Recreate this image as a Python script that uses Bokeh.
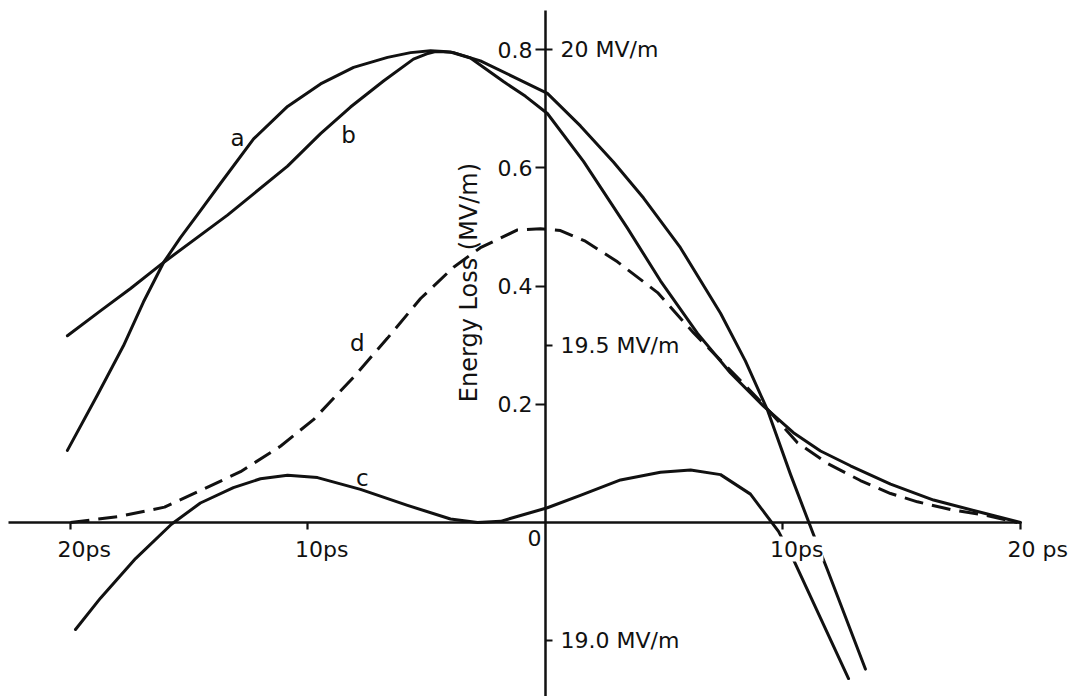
from bokeh.plotting import figure
from bokeh.models import Range1d, LinearAxis, FixedTicker, Label
from bokeh.core.properties import value
from bokeh.embed import file_html
from bokeh.resources import INLINE

# ---------------- data (time in ps, energy loss in MV/m) ----------------
a_t = [-20.13, -18.86, -17.77, -16.93, -16.08, -15.37, -14.65, -13.68, -12.29, -10.86,
       -9.47, -8.08, -6.65, -5.68, -4.84, -4.30, -3.87, -2.74, -1.35, 0.08, 1.47, 2.86,
       4.13, 5.68, 7.37, 8.42, 9.35, 10.32, 11.28, 11.87, 13.47]
a_v = [0.122, 0.216, 0.299, 0.373, 0.440, 0.482, 0.521, 0.574, 0.649, 0.704,
       0.742, 0.770, 0.787, 0.795, 0.798, 0.797, 0.795, 0.781, 0.754, 0.726, 0.671, 0.610,
       0.549, 0.465, 0.354, 0.273, 0.190, 0.081, -0.020, -0.080, -0.248]

b_t = [-20.13, -18.74, -17.47, -16.08, -13.39, -12.29, -10.86, -9.47, -8.21, -6.82,
       -5.56, -5.00, -4.63, -4.00, -3.16, -1.77, -0.84, 0.08, 1.60, 3.45, 4.84, 6.40,
       7.79, 9.18, 10.44, 11.58, 12.84, 14.53, 16.34, 18.44, 20.0]
b_v = [0.316, 0.358, 0.396, 0.440, 0.520, 0.556, 0.603, 0.658, 0.703, 0.747,
       0.784, 0.793, 0.797, 0.796, 0.786, 0.746, 0.721, 0.692, 0.611, 0.498, 0.409, 0.320,
       0.253, 0.197, 0.152, 0.121, 0.096, 0.065, 0.038, 0.016, 0.0]

c_t = [-19.79, -18.74, -17.26, -15.75, -14.53, -13.14, -12.0, -10.86, -9.60, -7.79,
       -5.81, -4.0, -2.86, -1.89, 0.08, 1.47, 3.16, 4.84, 6.11, 7.37, 8.63, 9.81,
       10.44, 12.76]
c_v = [-0.181, -0.128, -0.061, -0.003, 0.033, 0.059, 0.074, 0.080, 0.076, 0.056,
       0.029, 0.006, 0.0, 0.002, 0.025, 0.046, 0.072, 0.085, 0.089, 0.081, 0.048, -0.015,
       -0.063, -0.264]

d_t = [-20.0, -17.98, -16.04, -14.53, -12.84, -11.16, -9.77, -8.08, -6.65, -5.26,
       -3.87, -2.74, -1.18, -0.21, 0.63, 1.68, 3.03, 4.72, 6.23, 7.92, 9.05, 10.61,
       11.87, 13.26, 14.53, 15.66, 17.05, 18.44, 19.87]
d_v = [0.0, 0.010, 0.026, 0.054, 0.086, 0.129, 0.174, 0.246, 0.312, 0.379,
       0.432, 0.465, 0.495, 0.497, 0.494, 0.476, 0.441, 0.389, 0.321, 0.252, 0.205, 0.135,
       0.100, 0.071, 0.049, 0.035, 0.022, 0.013, 0.0]

curve_names = ["a", "b", "c", "d"]
curve_label_t = [-12.97, -8.29, -7.71, -7.92]
curve_label_v = [0.650, 0.655, 0.076, 0.303]

x_ticks = [-20, -10, 10, 20]
x_tick_labels = ["20ps", "10ps", "10ps", "20 ps"]
x_zero_label = "0"

y_ticks = [0.2, 0.4, 0.6, 0.8]
y_tick_labels = ["0.2", "0.4", "0.6", "0.8"]

field_offset = 19.2          # right scale: accelerating field = loss + 19.2 MV/m
field_ticks = [19.0, 19.5, 20.0]
field_tick_labels = ["19.0 MV/m", "19.5 MV/m", "20 MV/m"]

y_title = "Energy Loss (MV/m)"

# ---------------- figure ----------------
X0, X1 = -22.947, 22.274
Y0, Y1 = -0.2944, 0.8832
INK = "#111111"
FONT = "DejaVu Sans"

p = figure(width=1074, height=696, x_range=Range1d(X0, X1), y_range=Range1d(Y0, Y1),
           x_axis_type=None, y_axis_type=None, output_backend="svg",
           toolbar_location=None, min_border=0, outline_line_color=None,
           background_fill_color="white", border_fill_color="white")
p.extra_y_ranges = {"field": Range1d(Y0 + field_offset, Y1 + field_offset)}

# curves
for t, v in [(a_t, a_v), (b_t, b_v), (c_t, c_v)]:
    p.line(t, v, line_color=INK, line_width=3, line_join="round", line_cap="round")
p.line(d_t, d_v, line_color=INK, line_width=3, line_dash="19 9")

# curve labels
p.text(x=curve_label_t, y=curve_label_v, text=curve_names, text_font=value(FONT),
       text_font_size="23px", text_color=INK, text_align="center", text_baseline="middle")

# x axis through y = 0
xax = LinearAxis(fixed_location=0, ticker=FixedTicker(ticks=x_ticks),
                 bounds=(-22.6, 20), major_label_overrides={t: "" for t in x_ticks},
                 major_tick_in=0, major_tick_out=7, minor_tick_line_color=None,
                 axis_line_color=INK, axis_line_width=2.5,
                 major_tick_line_color=INK, major_tick_line_width=2.2)
p.add_layout(xax, "below")

# left y axis through t = 0
yax = LinearAxis(fixed_location=0, ticker=FixedTicker(ticks=y_ticks),
                 bounds=(Y0, 0.866),
                 major_label_overrides=dict(zip(y_ticks, y_tick_labels)),
                 major_tick_in=0, major_tick_out=10, minor_tick_line_color=None,
                 major_label_standoff=3, major_label_text_font=FONT,
                 major_label_text_font_size="22px", major_label_text_color=INK,
                 axis_line_color=INK, axis_line_width=2.5,
                 major_tick_line_color=INK, major_tick_line_width=2.2)
p.add_layout(yax, "left")

# right-hand field scale on the same vertical line
rax = LinearAxis(fixed_location=0, y_range_name="field", ticker=FixedTicker(ticks=field_ticks),
                 major_label_overrides=dict(zip(field_ticks, field_tick_labels)),
                 major_tick_in=0, major_tick_out=7, minor_tick_line_color=None,
                 major_label_standoff=8, major_label_text_font=FONT,
                 major_label_text_font_size="22px", major_label_text_color=INK,
                 axis_line_color=None,
                 major_tick_line_color=INK, major_tick_line_width=2.2)
p.add_layout(rax, "right")

# x tick labels (number centred on the tick, unit following)
for t, s in zip(x_ticks, x_tick_labels):
    p.add_layout(Label(x=t, y=0, text=s, x_offset=-13, y_offset=-14,
                       text_align="left", text_baseline="top", text_font=FONT,
                       text_font_size="22px", text_color=INK,
                       background_fill_color="white"))
p.add_layout(Label(x=0, y=0, text=x_zero_label, x_offset=-4, y_offset=-7,
                   text_align="right", text_baseline="top", text_font=FONT,
                   text_font_size="22px", text_color=INK))

# axis title
p.add_layout(Label(x=-3.2, y=0.406, text=y_title, angle=90, angle_units="deg",
                   text_align="center", text_baseline="middle", text_font=FONT,
                   text_font_size="24px", text_color=INK))

open("out.html", "w").write(file_html(p, INLINE))
